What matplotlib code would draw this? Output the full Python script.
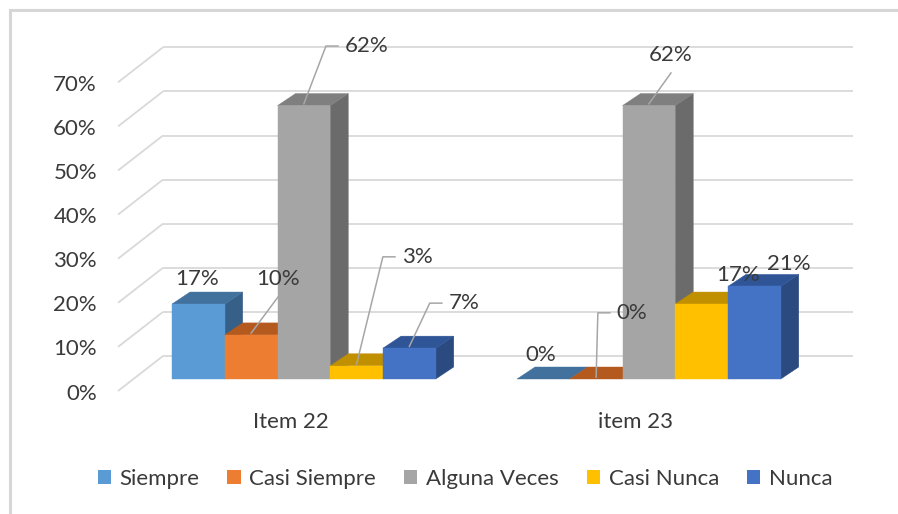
import matplotlib.pyplot as plt
from matplotlib.patches import Polygon, Patch, Rectangle

# Data
categories = ['Item 22', 'item 23']
series = ['Siempre', 'Casi Siempre', 'Alguna Veces', 'Casi Nunca', 'Nunca']
siempre = [17, 0]
casi_siempre = [10, 0]
alguna_veces = [62, 62]
casi_nunca = [3, 17]
nunca = [7, 21]
y_ticks = [0, 10, 20, 30, 40, 50, 60, 70]

values = [siempre, casi_siempre, alguna_veces, casi_nunca, nunca]

# Colours: front, top, side
front_colors = ['#5B9BD5', '#ED7D31', '#A5A5A5', '#FFC000', '#4472C4']
top_colors = ['#41719C', '#B55A1F', '#7F7F7F', '#C09000', '#2F5597']
side_colors = ['#376089', '#A34E18', '#6B6B6B', '#A87E00', '#2A4A80']
text_color = '#3A3A3A'
grid_color = '#D9D9D9'
leader_color = '#A6A6A6'

plt.rcParams['font.family'] = ['Lato', 'DejaVu Sans']
fs = 16

W, H = 898, 514
fig = plt.figure(figsize=(W / 100, H / 100), dpi=100)
fig.patch.set_facecolor('white')

# axes = front plane of the bars (category units x, percent y)
px_per_pct = 4.41
ax = fig.add_axes([133.5 / W, (H - 379) / H, 690 / W, 70 * px_per_pct / H])
ax.set_xlim(0, 2)
ax.set_ylim(0, 70)
ax.axis('off')

# 3D offsets (in data units)
bar_dx, bar_dy = 18 / 345, 12 / px_per_pct      # depth of each bar
back_dx, back_dy = 29.5 / 345, 23 / px_per_pct  # back wall
front_dx, front_dy = -15.5 / 345, -12 / px_per_pct  # front floor edge

# gridlines: back wall + slanted side wall
for v in y_ticks:
    ax.plot([back_dx, 2 + back_dx], [v + back_dy, v + back_dy], color=grid_color,
            lw=1.3, zorder=1, clip_on=False, solid_capstyle='butt')
    ax.plot([front_dx, back_dx], [v + front_dy, v + back_dy], color=grid_color,
            lw=1.3, zorder=1, clip_on=False, solid_capstyle='butt')
    ax.text(-0.106, v - 3.3, f'{v}%', ha='right', va='center', fontsize=fs,
            color=text_color)

# bars
bar_w = 0.1529
left0 = 0.1116
centers = {}
for j in range(len(categories)):
    for i in range(len(series)):
        h = values[i][j]
        x0 = j + left0 + i * bar_w
        x1 = x0 + bar_w
        z = 3 + i
        side = Polygon([(x1, 0), (x1 + bar_dx, bar_dy), (x1 + bar_dx, h + bar_dy), (x1, h)],
                       closed=True, fc=side_colors[i], ec=side_colors[i], lw=0.3,
                       zorder=z, clip_on=False)
        top = Polygon([(x0, h), (x1, h), (x1 + bar_dx, h + bar_dy), (x0 + bar_dx, h + bar_dy)],
                      closed=True, fc=top_colors[i], ec=top_colors[i], lw=0.3,
                      zorder=z, clip_on=False)
        front = Polygon([(x0, 0), (x1, 0), (x1, h), (x0, h)], closed=True,
                        fc=front_colors[i], ec=front_colors[i], lw=0.3,
                        zorder=z + 0.1, clip_on=False)
        ax.add_patch(side)
        ax.add_patch(top)
        if h > 0:
            ax.add_patch(front)
        centers[(j, i)] = ((x0 + x1) / 2, h)

# data label layout: kind, x offset, y offset (relative to bar front-top centre)
label_layout = {
    (0, 0): ('none', -0.004, 5.7),
    (0, 1): ('below', 0.078, 12.7),
    (0, 2): ('left', 0.119, 13.5),
    (0, 3): ('left', 0.131, 24.7),
    (0, 4): ('left', 0.114, 10.2),
    (1, 0): ('none', -0.007, 5.4),
    (1, 1): ('left', 0.060, 15.0),
    (1, 2): ('below', 0.064, 11.5),
    (1, 3): ('none', 0.105, 6.6),
    (1, 4): ('none', 0.100, 5.1),
}

for (j, i), (kind, ox, oy) in label_layout.items():
    cx, h = centers[(j, i)]
    tx, ty = cx + ox, h + oy
    txt = f'{values[i][j]}%'
    if kind == 'left':
        ax.text(tx, ty, txt, ha='left', va='center', fontsize=fs, color=text_color,
                zorder=30, clip_on=False)
        ax.plot([cx, tx - 0.055, tx - 0.02], [h + 0.4, ty, ty], color=leader_color,
                lw=1.1, zorder=25, clip_on=False)
    else:
        ax.text(tx, ty, txt, ha='center', va='center', fontsize=fs, color=text_color,
                zorder=30, clip_on=False)
        if kind == 'below':
            ax.plot([cx, tx], [h + 0.4, ty - 4.1], color=leader_color,
                    lw=1.1, zorder=25, clip_on=False)

# category labels
for j, cat in enumerate(categories):
    ax.text(j + 0.455, -9.75, cat, ha='center', va='center', fontsize=fs,
            color=text_color, clip_on=False)

# legend
handles = [Patch(facecolor=c, edgecolor='none') for c in front_colors]
leg = fig.legend(handles, series, loc='center', bbox_to_anchor=(465 / W, 1 - 479 / H),
                 ncol=5, frameon=False, fontsize=fs, handlelength=0.59,
                 handleheight=0.59, handletextpad=0.4, columnspacing=1.25)
for t in leg.get_texts():
    t.set_color(text_color)

# chart frame
fig.patches.append(Rectangle((10 / W, -0.1), 1.2, 1 - 10 / H + 0.1, transform=fig.transFigure,
                             fill=False, edgecolor='#D6D6D6', lw=2.2, zorder=0))

fig.savefig('out.png', dpi=100)
